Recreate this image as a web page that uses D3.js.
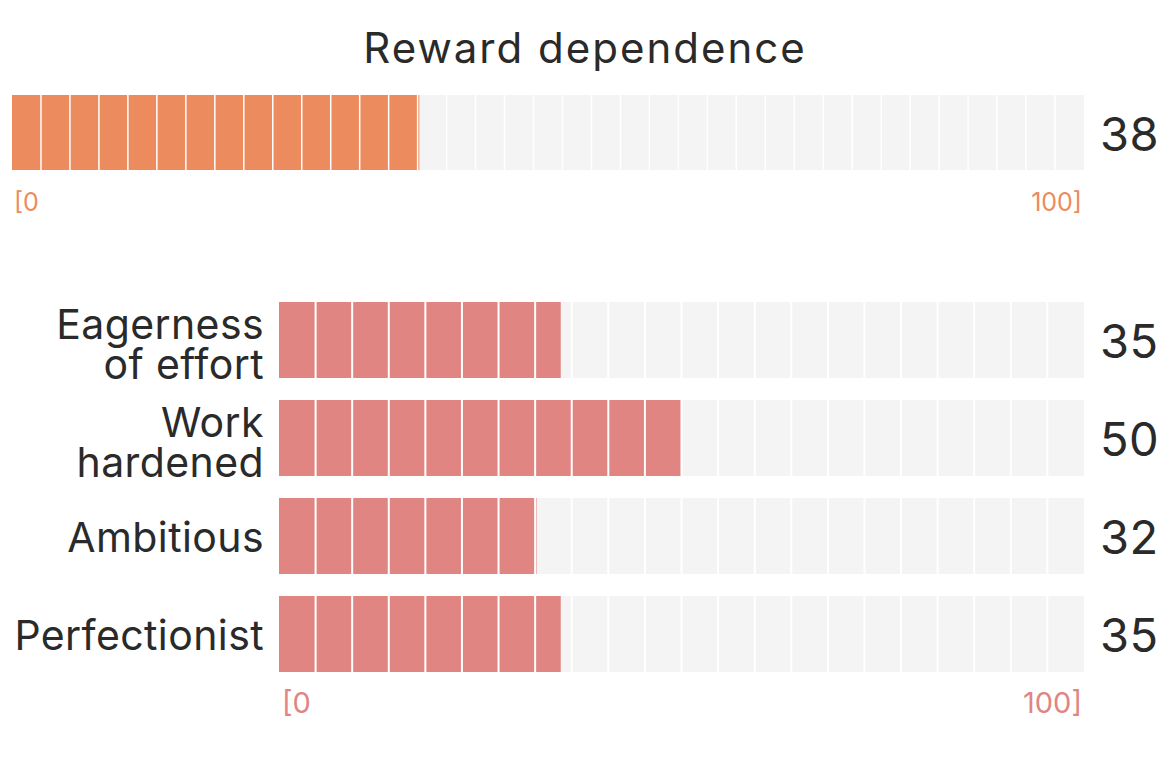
<!DOCTYPE html>
<html><head><meta charset="utf-8">
<script src="https://cdn.jsdelivr.net/npm/d3@7"></script>
<style>
html,body{margin:0;padding:0;background:#fff;}
svg{display:block;font-family:Inter,"Noto Sans",sans-serif;}
</style></head>
<body>
<svg id="chart" width="1170" height="782"></svg>
<script>
const title = "Reward dependence";
const mainValue = 38;
const categories = [["Eagerness","of effort"],["Work","hardened"],["Ambitious"],["Perfectionist"]];
const values = [35, 50, 32, 35];
const domainLabels = ["[0", "100]"];
const domain = [0, 100];

const svg = d3.select("#chart");
const textColor = "#2a2a2a";
const bgColor = "#f4f4f4";
const mainColor = "#ec8b5e";
const subColor = "#e08582";

function segBar(g, x, y0, h, value, color, nSeg, gap) {
  const [r0, r1] = x.range();
  g.append("rect").attr("x", r0).attr("y", y0).attr("width", r1 - r0).attr("height", h).attr("fill", bgColor);
  g.append("rect").attr("x", r0).attr("y", y0).attr("width", x(value) - r0).attr("height", h).attr("fill", color);
  const segW = (r1 - r0) / nSeg;
  g.selectAll(null).data(d3.range(1, nSeg)).join("rect")
    .attr("x", i => r0 + i * segW - gap / 2).attr("y", y0)
    .attr("width", gap).attr("height", h).attr("fill", "#fff");
}

// title
svg.append("text").attr("x", 585).attr("y", 63).attr("text-anchor", "middle")
  .attr("font-size", 42).attr("letter-spacing", 2).attr("fill", textColor).text(title);

// main bar
const xMain = d3.scaleLinear().domain(domain).range([12, 1084]);
const gMain = svg.append("g");
const mainY = 95, mainH = 75;
segBar(gMain, xMain, mainY, mainH, mainValue, mainColor, 37, 1.5);
svg.append("text").attr("x", 1100).attr("y", mainY + mainH / 2 + 18).attr("font-size", 47).attr("letter-spacing", 0.5)
  .attr("fill", textColor).text(mainValue);
svg.append("text").attr("x", xMain(domain[0]) + 2).attr("y", 211).attr("font-size", 25).attr("fill", mainColor).text(domainLabels[0]);
svg.append("text").attr("x", xMain(domain[1]) - 2).attr("y", 211).attr("text-anchor", "end").attr("font-size", 25).attr("fill", mainColor).text(domainLabels[1]);

// sub bars
const xSub = d3.scaleLinear().domain(domain).range([279, 1084]);
const ySub = d3.scaleBand().domain(d3.range(values.length)).range([302, 672]).paddingInner(22 / 98).paddingOuter(0);
const rowH = ySub.bandwidth();
values.forEach((v, i) => {
  const y0 = ySub(i);
  const g = svg.append("g");
  segBar(g, xSub, y0, rowH, v, subColor, 22, 2);
  svg.append("text").attr("x", 1100).attr("y", y0 + rowH / 2 + 18).attr("font-size", 47).attr("letter-spacing", 0.5)
    .attr("fill", textColor).text(v);
  const lines = categories[i];
  const lh = 40;
  const mid = y0 + rowH / 2 + (lines.length > 1 ? 19 : 16);
  const t = svg.append("text").attr("text-anchor", "end").attr("font-size", 41)
    .attr("letter-spacing", 0.4).attr("fill", textColor);
  lines.forEach((ln, j) => {
    t.append("tspan").attr("x", 264).attr("y", mid + (j - (lines.length - 1) / 2) * lh).text(ln);
  });
});
svg.append("text").attr("x", xSub(domain[0]) + 3).attr("y", 713).attr("font-size", 29).attr("fill", subColor).text(domainLabels[0]);
svg.append("text").attr("x", xSub(domain[1]) - 2).attr("y", 713).attr("text-anchor", "end").attr("font-size", 29).attr("fill", subColor).text(domainLabels[1]);
</script>
</body></html>
